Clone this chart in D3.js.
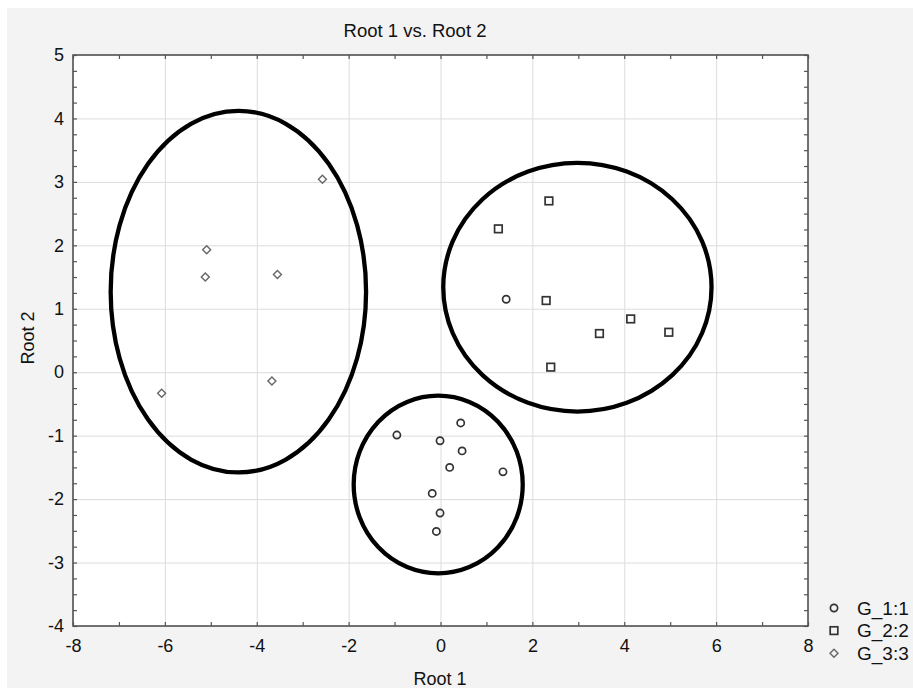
<!DOCTYPE html>
<html>
<head>
<meta charset="utf-8">
<script src="https://cdn.jsdelivr.net/npm/d3@7"></script>
<style>
  body { margin: 0; background: #fff; }
  svg text { font-family: "Liberation Sans", Arial, sans-serif; fill: #111; }
</style>
</head>
<body>
<div id="chart"></div>
<script>
// Root 1 vs. Root 2 - discriminant scatter with hand-drawn group ellipses

// group G_1:1 (circles)
const g1Root1 = [1.43, 0.44, -0.95, -0.01, 0.47, 0.20, 1.36, -0.18, -0.01, -0.09];
const g1Root2 = [1.15, -0.80, -0.99, -1.08, -1.24, -1.50, -1.57, -1.91, -2.22, -2.51];
// group G_2:2 (squares)
const g2Root1 = [2.36, 1.26, 2.30, 4.14, 3.46, 4.97, 2.40];
const g2Root2 = [2.70, 2.26, 1.13, 0.84, 0.61, 0.63, 0.08];
// group G_3:3 (diamonds)
const g3Root1 = [-2.57, -5.09, -5.12, -3.55, -3.67, -6.07];
const g3Root2 = [3.04, 1.93, 1.50, 1.54, -0.14, -0.33];

const groupNames = ['G_1:1', 'G_2:2', 'G_3:3'];

// ellipses drawn around the groups (data units)
const ellipseCx = [-4.40, 2.98, -0.05];
const ellipseCy = [1.27, 1.34, -1.77];
const ellipseRx = [2.78, 2.92, 1.84];
const ellipseRy = [2.85, 1.96, 1.40];

const xTicks = [-8, -6, -4, -2, 0, 2, 4, 6, 8];
const yTicks = [-4, -3, -2, -1, 0, 1, 2, 3, 4, 5];

const width = 913, height = 688;
const plot = { left: 73, right: 808, top: 55, bottom: 626 };

const svg = d3.select('#chart').append('svg')
    .attr('width', width)
    .attr('height', height);

// grey figure background
svg.append('rect')
    .attr('x', 7).attr('y', 8)
    .attr('width', width - 7).attr('height', height - 8)
    .attr('fill', '#f3f3f3');

const x = d3.scaleLinear().domain([-8, 8]).range([plot.left, plot.right]);
const y = d3.scaleLinear().domain([-4, 5]).range([plot.bottom, plot.top]);

const plotW = plot.right - plot.left;
const plotH = plot.bottom - plot.top;

svg.append('rect')
    .attr('x', plot.left).attr('y', plot.top)
    .attr('width', plotW).attr('height', plotH)
    .attr('fill', '#fff');

// Grid lines
svg.append('g')
    .attr('class', 'grid')
    .attr('transform', `translate(0, ${plot.bottom})`)
    .call(d3.axisBottom(x).tickValues(xTicks.slice(1, -1)).tickSize(-plotH).tickFormat(''))
    .call(g => g.select('.domain').remove());

svg.append('g')
    .attr('class', 'grid')
    .attr('transform', `translate(${plot.left}, 0)`)
    .call(d3.axisLeft(y).tickValues(yTicks.slice(1, -1)).tickSize(-plotW).tickFormat(''))
    .call(g => g.select('.domain').remove());

svg.selectAll('.grid line').attr('stroke', '#dcdcdc').attr('stroke-width', 1);

// Ellipses
const ellipseData = ellipseCx.map((cx, i) => ({ cx, cy: ellipseCy[i], rx: ellipseRx[i], ry: ellipseRy[i] }));
svg.append('g').selectAll('ellipse')
    .data(ellipseData)
    .join('ellipse')
    .attr('cx', d => x(d.cx))
    .attr('cy', d => y(d.cy))
    .attr('rx', d => x(d.rx) - x(0))
    .attr('ry', d => y(0) - y(d.ry))
    .attr('fill', 'none')
    .attr('stroke', '#000')
    .attr('stroke-width', 4.3);

// Markers
const diamond = (cx, cy, r) => `M${cx},${cy - r}L${cx + r},${cy}L${cx},${cy + r}L${cx - r},${cy}Z`;

function drawMarker(sel, kind, px, py) {
    if (kind === 0) {
        sel.append('circle')
            .attr('cx', px).attr('cy', py).attr('r', 3.6)
            .attr('fill', 'none').attr('stroke', '#333').attr('stroke-width', 1.7);
    } else if (kind === 1) {
        sel.append('rect')
            .attr('x', px - 3.8).attr('y', py - 3.8)
            .attr('width', 7.6).attr('height', 7.6)
            .attr('fill', 'none').attr('stroke', '#333').attr('stroke-width', 1.7);
    } else {
        sel.append('path')
            .attr('d', diamond(px, py, 4))
            .attr('fill', 'none').attr('stroke', '#666').attr('stroke-width', 1.4);
    }
}

const pts = svg.append('g');
g1Root1.forEach((v, i) => drawMarker(pts, 0, x(v), y(g1Root2[i])));
g2Root1.forEach((v, i) => drawMarker(pts, 1, x(v), y(g2Root2[i])));
g3Root1.forEach((v, i) => drawMarker(pts, 2, x(v), y(g3Root2[i])));

// Frame
svg.append('rect')
    .attr('x', plot.left).attr('y', plot.top)
    .attr('width', plotW).attr('height', plotH)
    .attr('fill', 'none')
    .attr('stroke', '#444')
    .attr('stroke-width', 1.5);

// Inward ticks on all four sides (minor: x every 1, y every 0.25)
const xMinor = d3.range(-8, 8.001, 1);
const yMinor = d3.range(-4, 5.001, 0.25);

const tickAxes = [
    svg.append('g').attr('transform', `translate(0, ${plot.bottom})`)
        .call(d3.axisBottom(x).tickValues(xMinor).tickSize(-4).tickFormat('')),
    svg.append('g').attr('transform', `translate(0, ${plot.top})`)
        .call(d3.axisTop(x).tickValues(xMinor).tickSize(-4).tickFormat('')),
    svg.append('g').attr('transform', `translate(${plot.left}, 0)`)
        .call(d3.axisLeft(y).tickValues(yMinor).tickSize(-4).tickFormat('')),
    svg.append('g').attr('transform', `translate(${plot.right}, 0)`)
        .call(d3.axisRight(y).tickValues(yMinor).tickSize(-4).tickFormat(''))
];
tickAxes.forEach(g => {
    g.select('.domain').remove();
    g.selectAll('line').attr('stroke', '#555').attr('stroke-width', 1.2);
});

// Tick labels
const xAxis = svg.append('g')
    .attr('transform', `translate(0, ${plot.bottom})`)
    .call(d3.axisBottom(x).tickValues(xTicks).tickSize(0).tickPadding(13).tickFormat(d3.format('d')));
const yAxis = svg.append('g')
    .attr('transform', `translate(${plot.left}, 0)`)
    .call(d3.axisLeft(y).tickValues(yTicks).tickSize(0).tickPadding(9).tickFormat(d3.format('d')));
[xAxis, yAxis].forEach(g => {
    g.select('.domain').remove();
    g.selectAll('text').attr('font-size', 18).attr('fill', '#111')
        .style('font-family', '"Liberation Sans", Arial, sans-serif');
});
// d3 uses a unicode minus; the reference shows a hyphen
svg.selectAll('.tick text').text(function () { return this.textContent.replace('\u2212', '-'); });

// Titles
svg.append('text')
    .attr('x', 415).attr('y', 37)
    .attr('text-anchor', 'middle')
    .attr('font-size', 18.5)
    .text('Root 1 vs. Root 2');

svg.append('text')
    .attr('x', 440).attr('y', 685)
    .attr('text-anchor', 'middle')
    .attr('font-size', 18)
    .text('Root 1');

svg.append('text')
    .attr('transform', 'translate(34, 338) rotate(-90)')
    .attr('text-anchor', 'middle')
    .attr('font-size', 18)
    .text('Root 2');

// Legend
const legend = svg.append('g');
groupNames.forEach((name, i) => {
    const ly = 608 + i * 22.6;
    drawMarker(legend, i, 834, ly);
    legend.append('text')
        .attr('x', 857).attr('y', ly + 6.5)
        .attr('font-size', 19)
        .text(name);
});
</script>
</body>
</html>
